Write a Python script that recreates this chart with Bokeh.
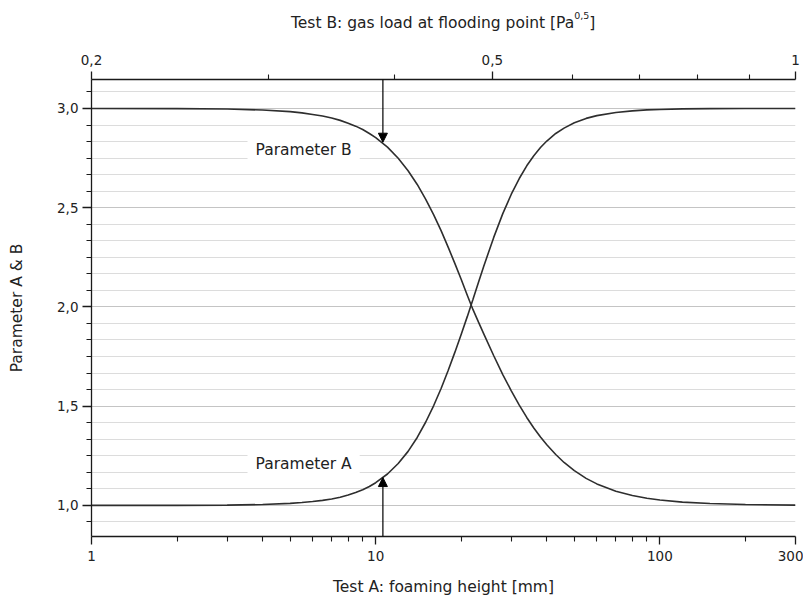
from bokeh.plotting import figure
from bokeh.models import (Range1d, LogAxis, LogScale, FixedTicker, CustomJSTickFormatter,
                          Label, Arrow, NormalHead, Div)
from bokeh.layouts import column
from bokeh.embed import file_html
from bokeh.resources import INLINE

# ---- data ----
x_mm = [1, 2, 3, 4, 5, 5.5, 6, 6.5, 7, 7.5, 8, 8.5, 9, 9.5, 10, 11, 12, 13, 14, 15, 16, 17,
        18, 19, 20, 21, 22, 23, 24, 26, 28, 30, 32, 34, 36, 38, 40, 43, 46, 50, 55, 60, 70,
        80, 90, 100, 120, 150, 200, 300]
param_a = [1.000, 1.000, 1.001, 1.004, 1.010, 1.014, 1.019, 1.025, 1.032, 1.041, 1.052,
           1.065, 1.079, 1.095, 1.114, 1.158, 1.211, 1.272, 1.342, 1.420, 1.503, 1.590,
           1.681, 1.772, 1.862, 1.951, 2.038, 2.124, 2.205, 2.349, 2.470, 2.568, 2.647,
           2.711, 2.762, 2.803, 2.836, 2.874, 2.901, 2.928, 2.950, 2.964, 2.980, 2.988,
           2.993, 2.995, 2.998, 2.999, 3.000, 3.000]
param_b = [3.000, 2.999, 2.997, 2.992, 2.984, 2.978, 2.970, 2.962, 2.952, 2.940, 2.926,
           2.911, 2.894, 2.874, 2.853, 2.805, 2.749, 2.686, 2.617, 2.542, 2.464, 2.383,
           2.300, 2.218, 2.138, 2.059, 1.986, 1.923, 1.864, 1.755, 1.659, 1.577, 1.505,
           1.443, 1.390, 1.344, 1.305, 1.256, 1.216, 1.175, 1.136, 1.108, 1.071, 1.050,
           1.036, 1.027, 1.016, 1.009, 1.004, 1.001]

x_ticks = [1, 10, 100, 300]
x_minor = [2, 3, 4, 5, 6, 7, 8, 9, 20, 30, 40, 50, 60, 70, 80, 90, 200]
top_ticks = [0.2, 0.5, 1.0]
top_minor = [0.3, 0.4, 0.6, 0.7, 0.8, 0.9]
y_ticks = [1.0, 1.5, 2.0, 2.5, 3.0]
y_minor = [0.9167, 1.0833, 1.1667, 1.25, 1.3333, 1.4167, 1.5833, 1.6667, 1.75, 1.8333,
           1.9167, 2.0833, 2.1667, 2.25, 2.3333, 2.4167, 2.5833, 2.6667, 2.75, 2.8333,
           2.9167, 3.0833]

x_lo, x_hi = 1, 300
top_lo, top_hi = 0.2, 1.0
y_lo, y_hi = 0.843, 3.146

arrow_x = 10.6
arrow_b_tip = 2.83
arrow_a_tip = 1.14

label_x = 3.54
label_b_y = 2.789
label_a_y = 1.207

top_title = "Test B: gas load at flooding point [Pa"
top_title_sup = "0,5"

FONT = "DejaVu Sans"
TXT = "#222222"

title_div = Div(
    text=(f'<div style="padding-left:291px; padding-top:14px; white-space:nowrap; '
          f'font-family:\'{FONT}\'; font-size:15.5px; line-height:18px; color:{TXT};">'
          f'{top_title}<span style="font-size:9.5px; position:relative; top:-9px;">'
          f'{top_title_sup}</span>]</div>'),
    width=803, height=42, margin=0)

p = figure(width=803, height=558, x_axis_type="log",
           x_range=Range1d(x_lo, x_hi), y_range=Range1d(y_lo, y_hi),
           output_backend="svg", toolbar_location=None, margin=0,
           min_border_left=91, min_border_right=8, min_border_top=37, min_border_bottom=64)
p.outline_line_color = None
p.background_fill_color = "white"
p.border_fill_color = "white"

# bottom axis
xt = FixedTicker(ticks=x_ticks, minor_ticks=x_minor)
p.xaxis.ticker = xt
p.xaxis.formatter = CustomJSTickFormatter(code="return String(tick).replace('.', ',');")
p.xaxis.axis_label = "Test A: foaming height [mm]"

# left axis
yt = FixedTicker(ticks=y_ticks, minor_ticks=y_minor)
p.yaxis.ticker = yt
p.yaxis.formatter = CustomJSTickFormatter(code="return tick.toFixed(1).replace('.', ',');")
p.yaxis.axis_label = "Parameter A & B"

# top axis
p.extra_x_ranges = {"top": Range1d(top_lo, top_hi)}
p.extra_x_scales = {"top": LogScale()}
top = LogAxis(x_range_name="top",
              ticker=FixedTicker(ticks=top_ticks, minor_ticks=top_minor),
              formatter=CustomJSTickFormatter(code="return String(tick).replace('.', ',');"))
p.add_layout(top, "above")

for ax in p.axis:
    ax.axis_line_color = "#1a1a1a"
    ax.axis_line_width = 1.3
    ax.major_tick_line_color = "#1a1a1a"
    ax.minor_tick_line_color = "#1a1a1a"
    ax.major_tick_line_width = 1.3
    ax.minor_tick_line_width = 1.1
    ax.major_tick_out = 8
    ax.major_tick_in = 0
    ax.minor_tick_out = 5
    ax.minor_tick_in = 0
    ax.major_label_text_font = FONT
    ax.major_label_text_font_size = "13.5px"
    ax.major_label_text_color = TXT
    ax.major_label_standoff = 4
    ax.axis_label_text_font = FONT
    ax.axis_label_text_font_size = "15.5px"
    ax.axis_label_text_font_style = "normal"
    ax.axis_label_text_color = TXT
p.yaxis.major_tick_out = 9
p.yaxis.axis_label_standoff = 28
p.xaxis.major_label_standoff = 6
p.xaxis.axis_label_standoff = 14
top.major_label_standoff = 7

# grid
p.xgrid.visible = False
p.ygrid.ticker = yt
p.ygrid.grid_line_color = "#c4c4c4"
p.ygrid.grid_line_width = 1
p.ygrid.minor_grid_line_color = "#dcdcdc"
p.ygrid.minor_grid_line_width = 1

# curves
p.line(x_mm, param_a, line_color="#2e2e2e", line_width=1.6)
p.line(x_mm, param_b, line_color="#2e2e2e", line_width=1.6)

# labels with white background
for ly, txt in [(label_b_y, "Parameter B"), (label_a_y, "Parameter A")]:
    p.add_layout(Label(x=label_x, y=ly, text=txt, text_font=FONT, text_font_size="15.5px",
                       text_color=TXT, text_baseline="middle", text_align="left",
                       background_fill_color="white", padding=8))

# arrows
p.add_layout(Arrow(end=NormalHead(size=9, fill_color="black", line_color="black"),
                   x_start=arrow_x, y_start=y_hi, x_end=arrow_x, y_end=arrow_b_tip,
                   line_color="black", line_width=1.2))
p.add_layout(Arrow(end=NormalHead(size=9, fill_color="black", line_color="black"),
                   x_start=arrow_x, y_start=y_lo, x_end=arrow_x, y_end=arrow_a_tip,
                   line_color="black", line_width=1.2))

layout = column(title_div, p, spacing=0)
open("out.html", "w").write(file_html(layout, INLINE))
